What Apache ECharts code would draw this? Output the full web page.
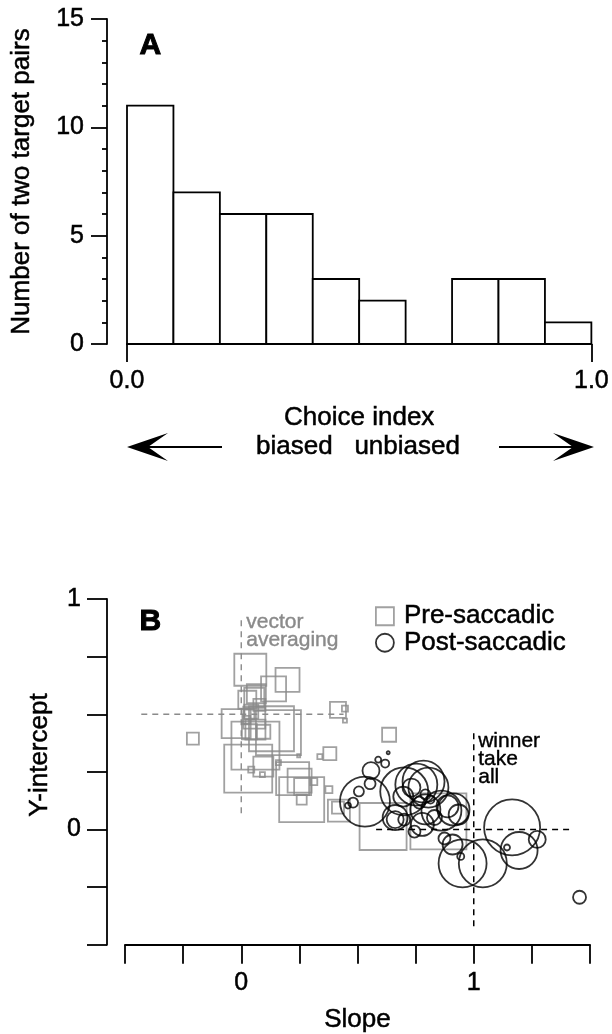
<!DOCTYPE html>
<html>
<head>
<meta charset="utf-8">
<script src="https://cdn.jsdelivr.net/npm/echarts@6/dist/echarts.min.js"></script>
<style>
  html, body { margin: 0; padding: 0; background: #fff; }
  #chart { width: 612px; height: 1034px; }
</style>
</head>
<body>
<div id="chart"></div>
<script>
// panel A: histogram of choice index
var binStart = [0.0, 0.1, 0.2, 0.3, 0.4, 0.5, 0.6, 0.7, 0.8, 0.9];
var binWidth = 0.1;
var binCounts = [11, 7, 6, 6, 3, 2, 0, 3, 3, 1];

// panel B: slope / intercept, third value = marker size
var preSaccadic = [
    [0.039, 0.693, 32], [0.199, 0.649, 24], [0.139, 0.610, 25], [0.065, 0.589, 19],
    [-0.022, 0.459, 29], [0.130, 0.437, 45], [0.160, 0.420, 45], [0.061, 0.364, 48],
    [0.035, 0.424, 15], [0.095, 0.424, 14], [0.030, 0.264, 48], [0.095, 0.273, 20],
    [0.043, 0.260, 6], [0.091, 0.238, 5], [0.221, 0.221, 33], [0.260, 0.130, 45],
    [0.251, 0.212, 24], [0.264, 0.186, 17], [0.260, 0.130, 10], [0.312, 0.208, 7],
    [0.377, 0.173, 7], [0.160, 0.290, 5], [-0.208, 0.394, 12], [0.416, 0.519, 16],
    [0.446, 0.524, 6], [0.446, 0.472, 4], [0.381, 0.329, 13], [0.338, 0.316, 5],
    [0.247, 0.320, 3], [0.420, 0.082, 22], [0.416, 0.095, 12], [0.636, 0.411, 14],
    [0.610, 0.013, 47], [0.848, 0.035, 56], [0.035, 0.498, 10], [0.022, 0.476, 8],
    [0.043, 0.511, 14], [0.026, 0.563, 18], [0.056, 0.485, 22], [0.078, 0.541, 12],
    [0.056, 0.571, 20], [0.061, 0.433, 20]
];
var postSaccadic = [
    [0.532, 0.121, 50], [0.701, 0.165, 48], [0.753, 0.195, 42], [0.784, 0.208, 42],
    [0.805, 0.182, 40], [0.558, 0.255, 17], [0.589, 0.303, 6], [0.619, 0.286, 8],
    [0.506, 0.165, 10], [0.554, 0.199, 11], [0.481, 0.117, 10], [0.459, 0.104, 6],
    [0.662, 0.052, 25], [0.662, 0.043, 17], [0.779, 0.022, 23], [0.861, 0.082, 40],
    [0.913, 0.087, 32], [0.935, 0.065, 20], [0.831, 0.052, 15], [0.874, -0.039, 12],
    [0.909, -0.065, 20], [0.944, -0.117, 7], [0.952, -0.147, 48], [1.039, -0.147, 48],
    [1.165, 0.009, 56], [1.195, -0.091, 37], [1.273, -0.043, 17], [1.143, -0.078, 6],
    [1.455, -0.294, 13], [0.792, 0.087, 30], [0.697, 0.143, 20], [0.732, 0.182, 18],
    [0.701, 0.043, 12], [0.745, -0.009, 12], [0.766, 0.117, 12], [0.887, 0.100, 22],
    [0.632, 0.333, 3], [0.792, 0.152, 10], [0.814, 0.130, 8]
];

// dashed reference lines
var vectorAvgV = [[0, 0.07], [0, 0.92]];
var vectorAvgH = [[-0.43, 0.5], [0.44, 0.5]];
var winnerV = [[1, -0.42], [1, 0.42]];
var winnerH = [[0.58, 0], [1.43, 0]];

var FONT = "Liberation Sans";
var GRAY = "#8a8a8a";

var histData = binStart.map(function (s, i) { return [s, s + binWidth, binCounts[i]]; });

var chart = echarts.init(document.getElementById("chart"));

// slight outline so the text looks as heavy as the scanned figure
var tickFont = { color: "#000", fontFamily: FONT, fontSize: 25, textBorderColor: "#000", textBorderWidth: 0.5 };
var nameFont = { color: "#000", fontFamily: FONT, fontSize: 26, textBorderColor: "#000", textBorderWidth: 0.5 };
var axisLineStyle = { onZero: false, lineStyle: { color: "#000", width: 1.8 } };
var tickLine = { color: "#000", width: 1.8 };
var onlyZeroOne = function (v) { return (v === 0 || v === 1) ? String(v) : ""; };

var option = {
    animation: false,
    grid: [
        { left: 127, right: 19, top: 19, bottom: 690 },
        { left: 125, right: 22, top: 599, bottom: 87 }
    ],
    xAxis: [
        {
            gridIndex: 0, type: "value", min: 0, max: 1, interval: 1,
            name: "Choice index", nameLocation: "middle", nameGap: 61, nameTextStyle: nameFont,
            axisLine: axisLineStyle,
            axisTick: { show: true, length: 18, lineStyle: tickLine },
            axisLabel: Object.assign({ margin: 25, formatter: function (v) { return v.toFixed(1); } }, tickFont),
            splitLine: { show: false }
        },
        {
            gridIndex: 1, type: "value", min: -0.5, max: 1.5, interval: 0.25,
            name: "Slope", nameLocation: "middle", nameGap: 62, nameTextStyle: nameFont,
            axisLine: axisLineStyle,
            axisTick: { show: true, length: 19, lineStyle: tickLine },
            axisLabel: Object.assign({ margin: 26, formatter: onlyZeroOne }, tickFont),
            splitLine: { show: false }
        }
    ],
    yAxis: [
        {
            gridIndex: 0, type: "value", min: 0, max: 15, interval: 5, offset: 20,
            name: "Number of two target pairs", nameLocation: "middle", nameGap: 72, nameTextStyle: nameFont,
            axisLine: axisLineStyle,
            axisTick: { show: true, length: 16, lineStyle: tickLine },
            minorTick: { show: true, splitNumber: 5, length: 5, lineStyle: tickLine },
            axisLabel: Object.assign({ margin: 23 }, tickFont),
            splitLine: { show: false }
        },
        {
            gridIndex: 1, type: "value", min: -0.5, max: 1, interval: 0.25, offset: 18,
            axisLine: axisLineStyle,
            axisTick: { show: true, length: 20, lineStyle: tickLine },
            axisLabel: Object.assign({ margin: 26, formatter: onlyZeroOne }, tickFont),
            splitLine: { show: false }
        }
    ],
    legend: {
        orient: "vertical", left: 370, top: 598, itemWidth: 18, itemHeight: 18, itemGap: 0,
        selectedMode: false,
        textStyle: { color: "#000", fontFamily: FONT, fontSize: 26, lineHeight: 24, padding: [0, 0, 0, 5],
            textBorderColor: "#000", textBorderWidth: 0.5 },
        data: [
            { name: "Pre-saccadic", icon: "rect", itemStyle: { color: "rgba(0,0,0,0)", borderColor: GRAY, borderWidth: 1.8 } },
            { name: "Post-saccadic", icon: "circle", itemStyle: { color: "rgba(0,0,0,0)", borderColor: "#000", borderWidth: 1.8 } }
        ]
    },
    series: [
        {
            type: "custom", xAxisIndex: 0, yAxisIndex: 0, silent: true,
            data: histData,
            renderItem: function (params, api) {
                var h = api.value(2);
                if (!h) return null;
                var p0 = api.coord([api.value(0), h]);
                var p1 = api.coord([api.value(1), 0]);
                return {
                    type: "rect",
                    shape: { x: p0[0], y: p0[1], width: p1[0] - p0[0], height: p1[1] - p0[1] },
                    style: { fill: "#fff", stroke: "#000", lineWidth: 1.8 }
                };
            }
        },
        {
            type: "line", xAxisIndex: 1, yAxisIndex: 1, data: vectorAvgV, symbol: "none", silent: true,
            lineStyle: { color: GRAY, width: 1.4, type: [6, 5] }
        },
        {
            type: "line", xAxisIndex: 1, yAxisIndex: 1, data: vectorAvgH, symbol: "none", silent: true,
            lineStyle: { color: GRAY, width: 1.4, type: [6, 5] }
        },
        {
            type: "line", xAxisIndex: 1, yAxisIndex: 1, data: winnerV, symbol: "none", silent: true,
            lineStyle: { color: "#000", width: 1.5, type: [6, 5] }
        },
        {
            type: "line", xAxisIndex: 1, yAxisIndex: 1, data: winnerH, symbol: "none", silent: true,
            lineStyle: { color: "#000", width: 1.5, type: [6, 5] }
        },
        {
            name: "Pre-saccadic", type: "scatter", xAxisIndex: 1, yAxisIndex: 1, silent: true,
            symbol: "rect", data: preSaccadic,
            symbolSize: function (v) { return v[2]; },
            itemStyle: { color: "rgba(0,0,0,0)", borderColor: GRAY, borderWidth: 1.8 }
        },
        {
            name: "Post-saccadic", type: "scatter", xAxisIndex: 1, yAxisIndex: 1, silent: true,
            symbol: "circle", data: postSaccadic,
            symbolSize: function (v) { return v[2]; },
            itemStyle: { color: "rgba(0,0,0,0)", borderColor: "#000", borderWidth: 1.8 }
        }
    ],
    graphic: [
        { type: "text", left: 139, top: 30, style: { text: "A", font: "bold 30px '" + FONT + "'", fill: "#000", stroke: "#000", lineWidth: 1 } },
        { type: "text", left: 139, top: 606, style: { text: "B", font: "bold 30px '" + FONT + "'", fill: "#000", stroke: "#000", lineWidth: 1 } },
        { type: "text", x: 358, y: 447, style: { text: "biased   unbiased", font: "26px '" + FONT + "'", fill: "#000", stroke: "#000", lineWidth: 0.5, align: "center", verticalAlign: "middle" } },
        { type: "text", x: 40, y: 755, rotation: Math.PI / 2, style: { text: "Y-intercept", font: "26px '" + FONT + "'", fill: "#000", stroke: "#000", lineWidth: 0.5, align: "center", verticalAlign: "middle" } },
        { type: "line", shape: { x1: 146, y1: 447, x2: 222, y2: 447 }, style: { stroke: "#000", lineWidth: 1.8 } },
        { type: "polygon", shape: { points: [[127, 447], [168, 433], [148, 447], [168, 461]] }, style: { fill: "#000" } },
        { type: "line", shape: { x1: 499, y1: 447, x2: 575, y2: 447 }, style: { stroke: "#000", lineWidth: 1.8 } },
        { type: "polygon", shape: { points: [[594, 447], [553, 433], [573, 447], [553, 461]] }, style: { fill: "#000" } },
        { type: "text", left: 246, top: 612, style: { text: "vector\naveraging", font: "21px '" + FONT + "'", lineHeight: 18, fill: GRAY, stroke: GRAY, lineWidth: 0.4 } },
        { type: "text", left: 478, top: 731, style: { text: "winner\ntake\nall", font: "21px '" + FONT + "'", lineHeight: 18, fill: "#000", stroke: "#000", lineWidth: 0.4 } }
    ]
};

chart.setOption(option);
</script>
</body>
</html>
